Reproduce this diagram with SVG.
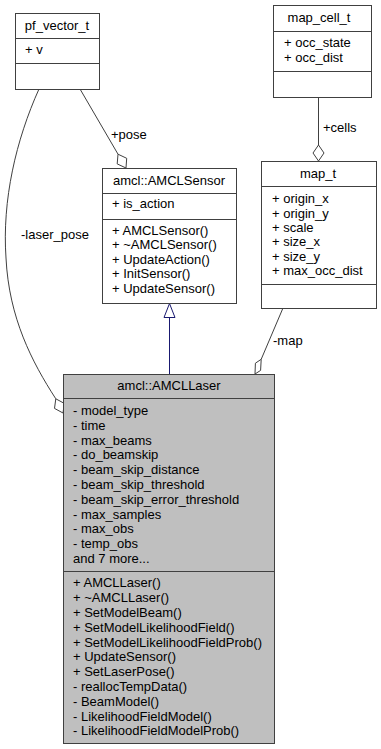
<svg xmlns="http://www.w3.org/2000/svg" width="381" height="749" viewBox="0 0 381 749">
  <style>
    text { font-family: "Liberation Sans", Arial, sans-serif; font-size: 13px; fill: #000; }
    .title { text-anchor: middle; }
    .box { fill: #fff; stroke: #404040; stroke-width: 1; }
    .box.main { fill: #bfbfbf; }
    .div { stroke: #404040; stroke-width: 1; }
    .edge { fill: none; stroke: #404040; stroke-width: 1; }
    .diamond { fill: #fff; stroke: #404040; stroke-width: 1; }
    .inherit { fill: none; stroke: #191970; stroke-width: 1; }
    .inherit-head { fill: #fff; stroke: #191970; stroke-width: 1; }
  </style>

  <!-- connectors -->
  <g id="edges">
    <!-- AMCLLaser is derived from AMCLSensor -->
    <line class="inherit" x1="169.5" y1="374" x2="169.5" y2="317"/>
    <polygon class="inherit-head" points="169.5,303.5 175,317.5 164,317.5"/>

    <!-- pf_vector_t -> AMCLSensor (+pose) -->
    <line class="edge" x1="80" y1="89" x2="118" y2="154.2"/>
    <polygon class="diamond" points="126,168 126.7,158.3 118,154.2 117.2,163.9"/>
    <text x="111" y="139">+pose</text>

    <!-- pf_vector_t -> AMCLLaser (-laser_pose) -->
    <path class="edge" d="M39,89 C16,140 2,200 6,258 C9,318 32,362 55.8,398.8"/>
    <polygon class="diamond" points="63,413 64.3,403.4 55.8,398.8 54.5,408.4"/>
    <text x="21" y="239">-laser_pose</text>

    <!-- map_cell_t -> map_t (+cells) -->
    <line class="edge" x1="318.5" y1="97" x2="318.5" y2="145"/>
    <polygon class="diamond" points="318.5,145 324,153 318.5,161 313,153"/>
    <text x="323" y="132">+cells</text>

    <!-- map_t -> AMCLLaser (-map) -->
    <line class="edge" x1="283" y1="308" x2="261.2" y2="359.3"/>
    <polygon class="diamond" points="255,374 260.6,370.4 261.2,359.3 255.4,363.2"/>
    <text x="273" y="345">-map</text>
  </g>

  <!-- pf_vector_t -->
  <g id="node_pf_vector_t">
    <rect class="box" x="15.5" y="13.5" width="84" height="76"/>
    <line class="div" x1="15.5" y1="38.5" x2="99.5" y2="38.5"/>
    <line class="div" x1="15.5" y1="63.5" x2="99.5" y2="63.5"/>
    <text class="title" x="57" y="30">pf_vector_t</text>
    <text x="25" y="54">+ v</text>
  </g>

  <!-- map_cell_t -->
  <g id="node_map_cell_t">
    <rect class="box" x="273.5" y="5.5" width="98" height="92"/>
    <line class="div" x1="273.5" y1="31.5" x2="371.5" y2="31.5"/>
    <line class="div" x1="273.5" y1="71.5" x2="371.5" y2="71.5"/>
    <text class="title" x="319" y="22">map_cell_t</text>
    <text x="284" y="47">+ occ_state</text>
    <text x="284" y="62">+ occ_dist</text>
  </g>

  <!-- amcl::AMCLSensor -->
  <g id="node_AMCLSensor">
    <rect class="box" x="102.5" y="168.5" width="134" height="135"/>
    <line class="div" x1="102.5" y1="193.5" x2="236.5" y2="193.5"/>
    <line class="div" x1="102.5" y1="219.5" x2="236.5" y2="219.5"/>
    <text class="title" x="169" y="185">amcl::AMCLSensor</text>
    <text x="112" y="208">+ is_action</text>
    <text x="112" y="234.5">+ AMCLSensor()</text>
    <text x="112" y="249">+ ~AMCLSensor()</text>
    <text x="112" y="263.5">+ UpdateAction()</text>
    <text x="112" y="278">+ InitSensor()</text>
    <text x="112" y="292.5">+ UpdateSensor()</text>
  </g>

  <!-- map_t -->
  <g id="node_map_t">
    <rect class="box" x="261.5" y="161.5" width="115" height="147"/>
    <line class="div" x1="261.5" y1="186.5" x2="376.5" y2="186.5"/>
    <line class="div" x1="261.5" y1="284.5" x2="376.5" y2="284.5"/>
    <text class="title" x="318" y="178">map_t</text>
    <text x="272" y="203">+ origin_x</text>
    <text x="272" y="217.5">+ origin_y</text>
    <text x="272" y="231.8">+ scale</text>
    <text x="272" y="246.1">+ size_x</text>
    <text x="272" y="260.5">+ size_y</text>
    <text x="272" y="274.8">+ max_occ_dist</text>
  </g>

  <!-- amcl::AMCLLaser -->
  <g id="node_AMCLLaser">
    <rect class="box main" x="63.5" y="374.5" width="211" height="369"/>
    <line class="div" x1="63.5" y1="398.5" x2="274.5" y2="398.5"/>
    <line class="div" x1="63.5" y1="571.5" x2="274.5" y2="571.5"/>
    <text class="title" x="169" y="390">amcl::AMCLLaser</text>
    <text x="73" y="415">- model_type</text>
    <text x="73" y="429.8">- time</text>
    <text x="73" y="444.6">- max_beams</text>
    <text x="73" y="459.4">- do_beamskip</text>
    <text x="73" y="474.2">- beam_skip_distance</text>
    <text x="73" y="489">- beam_skip_threshold</text>
    <text x="73" y="503.8">- beam_skip_error_threshold</text>
    <text x="73" y="518.6">- max_samples</text>
    <text x="73" y="533.4">- max_obs</text>
    <text x="73" y="548.2">- temp_obs</text>
    <text x="73" y="563">and 7 more...</text>
    <text x="73" y="587.3">+ AMCLLaser()</text>
    <text x="73" y="602.1">+ ~AMCLLaser()</text>
    <text x="73" y="616.9">+ SetModelBeam()</text>
    <text x="73" y="631.7">+ SetModelLikelihoodField()</text>
    <text x="73" y="646.5">+ SetModelLikelihoodFieldProb()</text>
    <text x="73" y="661.3">+ UpdateSensor()</text>
    <text x="73" y="676.1">+ SetLaserPose()</text>
    <text x="73" y="690.9">- reallocTempData()</text>
    <text x="73" y="705.7">- BeamModel()</text>
    <text x="73" y="720.5">- LikelihoodFieldModel()</text>
    <text x="73" y="735.3">- LikelihoodFieldModelProb()</text>
  </g>
</svg>
